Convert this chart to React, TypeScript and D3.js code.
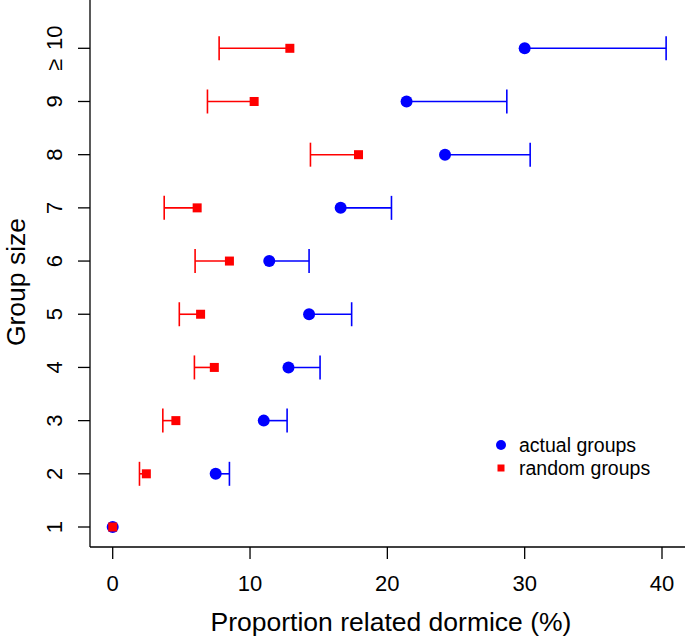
import React from "react";
import * as d3 from "d3";

const groups = ["1", "2", "3", "4", "5", "6", "7", "8", "9", "≥ 10"];
const groupPos = [1, 2, 3, 4, 5, 6, 7, 8, 9, 10];
const actualMean = [0, 7.5, 11.0, 12.8, 14.3, 11.4, 16.6, 24.2, 21.4, 30.0];
const actualUpper = [0, 8.5, 12.7, 15.1, 17.4, 14.3, 20.3, 30.4, 28.7, 40.3];
const randomMean = [0, 2.45, 4.6, 7.4, 6.4, 8.5, 6.15, 17.9, 10.3, 12.9];
const randomLower = [0, 1.95, 3.65, 5.95, 4.85, 6.0, 3.75, 14.4, 6.9, 7.75];
const xTicks = [0, 10, 20, 30, 40];
const legendLabels = ["actual groups", "random groups"];

const FONT = "'Liberation Sans', Arial, Helvetica, sans-serif";

export default function App() {
  const W = 685, H = 638;
  const x = d3.scaleLinear().domain([0, 40]).range([112.7, 662]);
  const y = d3.scaleLinear().domain([1, 10]).range([527, 48.3]);
  const axisX = 90, axisY = 547;
  const cap = 12;

  const renderLabel = (g: string) => {
    const parts = g.split(" ");
    if (parts.length === 1) return g;
    return (
      <>
        {parts[0]}
        <tspan dx={9}>{parts[1]}</tspan>
      </>
    );
  };

  return (
    <svg width={W} height={H} style={{ position: "absolute", left: 0, top: 0, background: "#fff" }} fontFamily={FONT}>
      <rect width={W} height={H} fill="#fff" />
      {/* axes */}
      <line x1={axisX} y1={0} x2={axisX} y2={axisY} stroke="#000" strokeWidth={1.3} />
      <line x1={axisX} y1={axisY} x2={W} y2={axisY} stroke="#000" strokeWidth={1.3} />
      {xTicks.map((t) => (
        <g key={"xt" + t}>
          <line x1={x(t)} x2={x(t)} y1={axisY} y2={axisY + 12} stroke="#000" strokeWidth={1.3} />
          <text x={x(t)} y={591} textAnchor="middle" fontSize={22}>{t}</text>
        </g>
      ))}
      {groups.map((g, i) => (
        <g key={"yt" + i}>
          <line x1={axisX - 12} x2={axisX} y1={y(groupPos[i])} y2={y(groupPos[i])} stroke="#000" strokeWidth={1.3} />
          <text transform={`translate(62,${y(groupPos[i])}) rotate(-90)`} textAnchor="middle" fontSize={22}>{renderLabel(g)}</text>
        </g>
      ))}
      <text x={391} y={631} textAnchor="middle" fontSize={26.5}>Proportion related dormice (%)</text>
      <text transform={`translate(25,282) rotate(-90)`} textAnchor="middle" fontSize={26.5}>Group size</text>

      {/* actual groups */}
      {groupPos.map((p, i) =>
        actualUpper[i] > actualMean[i] ? (
          <g key={"ae" + i} stroke="#0000ff" strokeWidth={1.6}>
            <line x1={x(actualMean[i])} x2={x(actualUpper[i])} y1={y(p)} y2={y(p)} />
            <line x1={x(actualUpper[i])} x2={x(actualUpper[i])} y1={y(p) - cap} y2={y(p) + cap} />
          </g>
        ) : null
      )}
      {groupPos.map((p, i) => (
        <circle key={"ac" + i} cx={x(actualMean[i])} cy={y(p)} r={6} fill="#0000ff" />
      ))}

      {/* random groups */}
      {groupPos.map((p, i) =>
        randomLower[i] < randomMean[i] ? (
          <g key={"re" + i} stroke="#ff0000" strokeWidth={1.6}>
            <line x1={x(randomLower[i])} x2={x(randomMean[i])} y1={y(p)} y2={y(p)} />
            <line x1={x(randomLower[i])} x2={x(randomLower[i])} y1={y(p) - cap} y2={y(p) + cap} />
          </g>
        ) : null
      )}
      {groupPos.map((p, i) => (
        <rect key={"rs" + i} x={x(randomMean[i]) - 4.5} y={y(p) - 4.5} width={9} height={9} fill="#ff0000" />
      ))}

      {/* legend */}
      <circle cx={501} cy={445} r={5} fill="#0000ff" />
      <rect x={497.5} y={464.5} width={7} height={7} fill="#ff0000" />
      <text x={519} y={451.7} fontSize={19.5}>{legendLabels[0]}</text>
      <text x={519} y={475} fontSize={19.5}>{legendLabels[1]}</text>
    </svg>
  );
}
